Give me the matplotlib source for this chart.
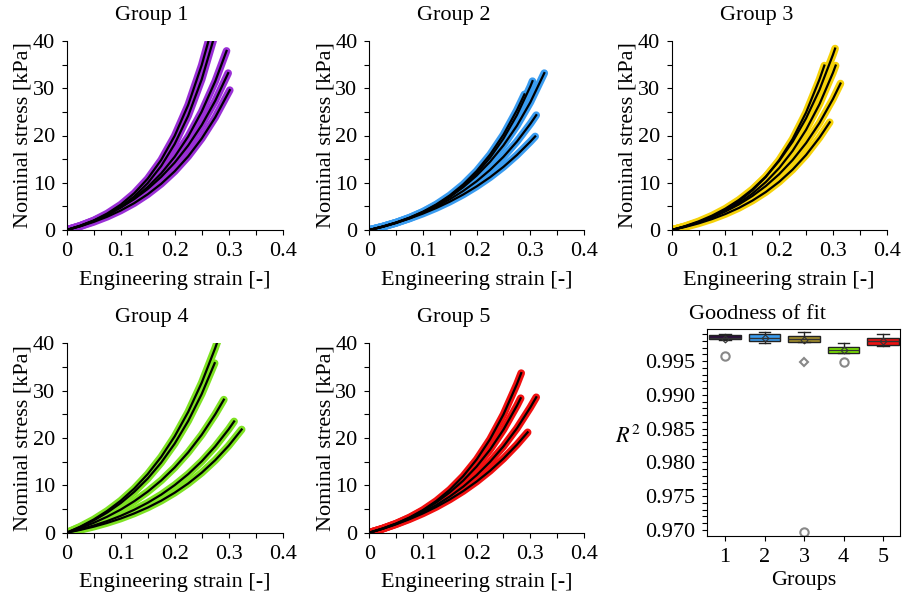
import matplotlib.pyplot as plt
from matplotlib.ticker import MultipleLocator, FormatStrFormatter

plt.rcParams['font.family'] = ['Liberation Serif', 'DejaVu Serif']
plt.rcParams['mathtext.fontset'] = 'stix'
plt.rcParams['font.size'] = 16

# strain grid shared by the curves; the last stress value of each curve sits at its own end strain
strain_grid = [0, 0.025, 0.05, 0.075, 0.1, 0.125, 0.15, 0.175, 0.2, 0.225, 0.25, 0.275, 0.3]

g1_end = [0.264, 0.272, 0.296, 0.299, 0.302]
g1_stress = [
    [0, 0.89, 2.02, 3.49, 5.36, 7.77, 10.86, 14.83, 19.93, 26.48, 34.89, 40.6],
    [0, 0.81, 1.85, 3.18, 4.90, 7.10, 9.92, 13.55, 18.21, 24.19, 31.87, 40.4],
    [0, 0.87, 1.93, 3.22, 4.80, 6.74, 9.09, 11.98, 15.50, 19.79, 25.05, 31.46, 37.9],
    [0, 0.89, 1.96, 3.22, 4.73, 6.53, 8.68, 11.23, 14.27, 17.89, 22.20, 27.34, 33.2],
    [0, 0.78, 1.71, 2.81, 4.13, 5.69, 7.56, 9.78, 12.43, 15.59, 19.35, 23.83, 29.6],
]

g2_end = [0.289, 0.304, 0.326, 0.311, 0.309]
g2_stress = [
    [0, 0.70, 1.55, 2.60, 3.87, 5.43, 7.33, 9.65, 12.49, 15.96, 20.19, 25.36, 28.7],
    [0, 0.67, 1.49, 2.49, 3.71, 5.21, 7.03, 9.26, 11.98, 15.30, 19.36, 24.32, 30.37, 31.5],
    [0, 0.72, 1.58, 2.60, 3.82, 5.27, 7.00, 9.06, 11.52, 14.44, 17.92, 22.07, 27.02, 33.2],
    [0, 0.72, 1.56, 2.53, 3.66, 4.97, 6.50, 8.27, 10.32, 12.72, 15.49, 18.72, 22.47, 24.3],
    [0, 0.72, 1.53, 2.44, 3.48, 4.66, 6.00, 7.51, 9.23, 11.17, 13.37, 15.87, 18.70, 19.8],
]

g3_end = [0.284, 0.304, 0.305, 0.314, 0.294]
g3_stress = [
    [0, 0.74, 1.67, 2.83, 4.28, 6.10, 8.37, 11.22, 14.80, 19.27, 24.87, 31.88, 34.8],
    [0, 0.82, 1.82, 3.04, 4.53, 6.36, 8.58, 11.30, 14.63, 18.68, 23.64, 29.69, 37.09, 38.4],
    [0, 0.74, 1.63, 2.73, 4.07, 5.71, 7.70, 10.14, 13.12, 16.76, 21.21, 26.64, 33.28, 34.8],
    [0, 0.74, 1.62, 2.67, 3.92, 5.41, 7.19, 9.30, 11.82, 14.82, 18.40, 22.66, 27.73, 31.0],
    [0, 0.64, 1.40, 2.31, 3.39, 4.67, 6.21, 8.03, 10.20, 12.79, 15.88, 19.56, 22.8],
]

g4_end = [0.279, 0.274, 0.291, 0.310, 0.324]
g4_stress = [
    [0, 1.27, 2.79, 4.60, 6.75, 9.32, 12.37, 16.01, 20.35, 25.51, 31.67, 39.0, 40.3],
    [0, 1.18, 2.58, 4.25, 6.25, 8.62, 11.44, 14.81, 18.82, 23.60, 29.29, 35.8],
    [0, 0.96, 2.08, 3.38, 4.88, 6.64, 8.67, 11.03, 13.78, 16.97, 20.68, 24.99, 28.1],
    [0, 0.70, 1.52, 2.46, 3.56, 4.84, 6.32, 8.04, 10.05, 12.37, 15.08, 18.22, 21.86, 23.5],
    [0, 0.59, 1.27, 2.07, 2.99, 4.07, 5.31, 6.76, 8.45, 10.40, 12.67, 15.31, 18.38, 21.8],
]

g5_end = [0.283, 0.282, 0.311, 0.295]
g5_stress = [
    [0, 0.87, 1.92, 3.21, 4.79, 6.72, 9.07, 11.95, 15.46, 19.74, 24.98, 31.38, 33.7],
    [0, 0.88, 1.92, 3.16, 4.64, 6.41, 8.51, 11.01, 13.99, 17.54, 21.78, 26.82, 28.4],
    [0, 0.85, 1.83, 2.98, 4.31, 5.85, 7.65, 9.73, 12.16, 14.97, 18.24, 22.04, 26.46, 28.6],
    [0, 0.84, 1.79, 2.86, 4.08, 5.46, 7.03, 8.80, 10.81, 13.08, 15.66, 18.59, 21.2],
]

# goodness of fit (R^2) box statistics per group
groups = [1, 2, 3, 4, 5]
r2_low = [0.99811, 0.99771, 0.99781, 0.99623, 0.99722]
r2_q1 = [0.99830, 0.99800, 0.99791, 0.99623, 0.99741]
r2_med = [0.99850, 0.99851, 0.99836, 0.99668, 0.99800]
r2_q3 = [0.99889, 0.99899, 0.99880, 0.99712, 0.99851]
r2_high = [0.99899, 0.99939, 0.99934, 0.99766, 0.99899]
r2_mean = [0.99822, 0.99848, 0.99820, 0.99667, 0.99805]
out_circle_grp = [1, 3, 4]
out_circle_val = [0.99578, 0.96965, 0.99495]
out_diamond_grp = [3]
out_diamond_val = [0.99485]

colors = ['#9a2fd6', '#3a9cf0', '#f5d20a', '#7ee222', '#f01010']
box_colors = ['#2c0c3c', '#3a9cf0', '#a8922c', '#80ee00', '#ee1111']

fig = plt.figure(figsize=(9.03, 5.98), dpi=100)

W, H = 903.0, 598.0
def axes_px(left, top, right, bottom):
    return fig.add_axes([left / W, 1 - bottom / H, (right - left) / W, (bottom - top) / H])

curve_axes = [
    (axes_px(66.7, 41, 282.7, 230), g1_end, g1_stress, 'Group 1'),
    (axes_px(369.3, 41, 584, 230), g2_end, g2_stress, 'Group 2'),
    (axes_px(671.7, 41, 886.7, 230), g3_end, g3_stress, 'Group 3'),
    (axes_px(66.7, 343.3, 282.7, 532.7), g4_end, g4_stress, 'Group 4'),
    (axes_px(369.3, 343.3, 584, 532.7), g5_end, g5_stress, 'Group 5'),
]

strain_fmt = plt.FuncFormatter(lambda v, p: '0' if abs(v) < 1e-9 else '%.1f' % v)

for i, (ax, ends, stresses, title) in enumerate(curve_axes):
    for end, s in zip(ends, stresses):
        eps = strain_grid[:len(s) - 1] + [end]
        ax.plot(eps, s, color=colors[i], lw=5.5, solid_capstyle='round', zorder=2)
        ax.plot(eps, s, color='black', lw=1.6, zorder=3)
    ax.set_xlim(0, 0.4)
    ax.set_ylim(0, 40)
    ax.spines['top'].set_visible(False)
    ax.spines['right'].set_visible(False)
    ax.xaxis.set_major_locator(MultipleLocator(0.1))
    ax.xaxis.set_minor_locator(MultipleLocator(0.05))
    ax.yaxis.set_major_locator(MultipleLocator(10))
    ax.yaxis.set_minor_locator(MultipleLocator(5))
    ax.xaxis.set_major_formatter(strain_fmt)
    ax.tick_params(which='both', direction='out', length=3.5, width=0.8, pad=5)
    ax.set_xlabel('Engineering strain [-]', labelpad=7)
    ax.set_ylabel('Nominal stress [kPa]', labelpad=0)
    ax.text(0.395, 1.135, title, transform=ax.transAxes, ha='center', va='center')

# goodness of fit panel
axb = axes_px(707.3, 329.3, 900, 536)
stats = []
for k in range(len(groups)):
    stats.append(dict(whislo=r2_low[k], q1=r2_q1[k], med=r2_med[k], q3=r2_q3[k],
                      whishi=r2_high[k], mean=r2_mean[k], fliers=[]))
bp = axb.bxp(stats, positions=groups, widths=0.79, capwidths=0.3, patch_artist=True,
             showmeans=True, showfliers=False,
             boxprops=dict(edgecolor='#222222', linewidth=1),
             medianprops=dict(color='#333333', linewidth=1),
             whiskerprops=dict(color='#222222', linewidth=1),
             capprops=dict(color='#222222', linewidth=1),
             meanprops=dict(marker='D', markersize=3.5, markerfacecolor='none',
                            markeredgecolor='#333333', markeredgewidth=0.8))
for patch, c in zip(bp['boxes'], box_colors):
    patch.set_facecolor(c)
axb.plot(out_circle_grp, out_circle_val, 'o', ms=6, mfc='none', mec='#888888', mew=1.5)
axb.plot(out_diamond_grp, out_diamond_val, 'D', ms=4.5, mfc='none', mec='#888888', mew=1.5)
axb.set_xlim(0.55, 5.43)
axb.set_ylim(0.9691, 0.99973)
axb.yaxis.set_major_locator(MultipleLocator(0.005))
axb.yaxis.set_minor_locator(MultipleLocator(0.001))
axb.yaxis.set_major_formatter(FormatStrFormatter('%.3f'))
axb.set_xticks(groups)
axb.tick_params(which='both', direction='out', length=3.5, width=0.8, pad=5)
axb.set_xlabel('Groups', labelpad=3)
axb.set_ylabel('$R^2$', rotation=0, labelpad=2, va='center')
axb.yaxis.set_label_coords(-0.41, 0.48)
axb.text(0.263, 1.07, 'Goodness of fit', transform=axb.transAxes, ha='center', va='center')

fig.savefig('out.png', dpi=100)
